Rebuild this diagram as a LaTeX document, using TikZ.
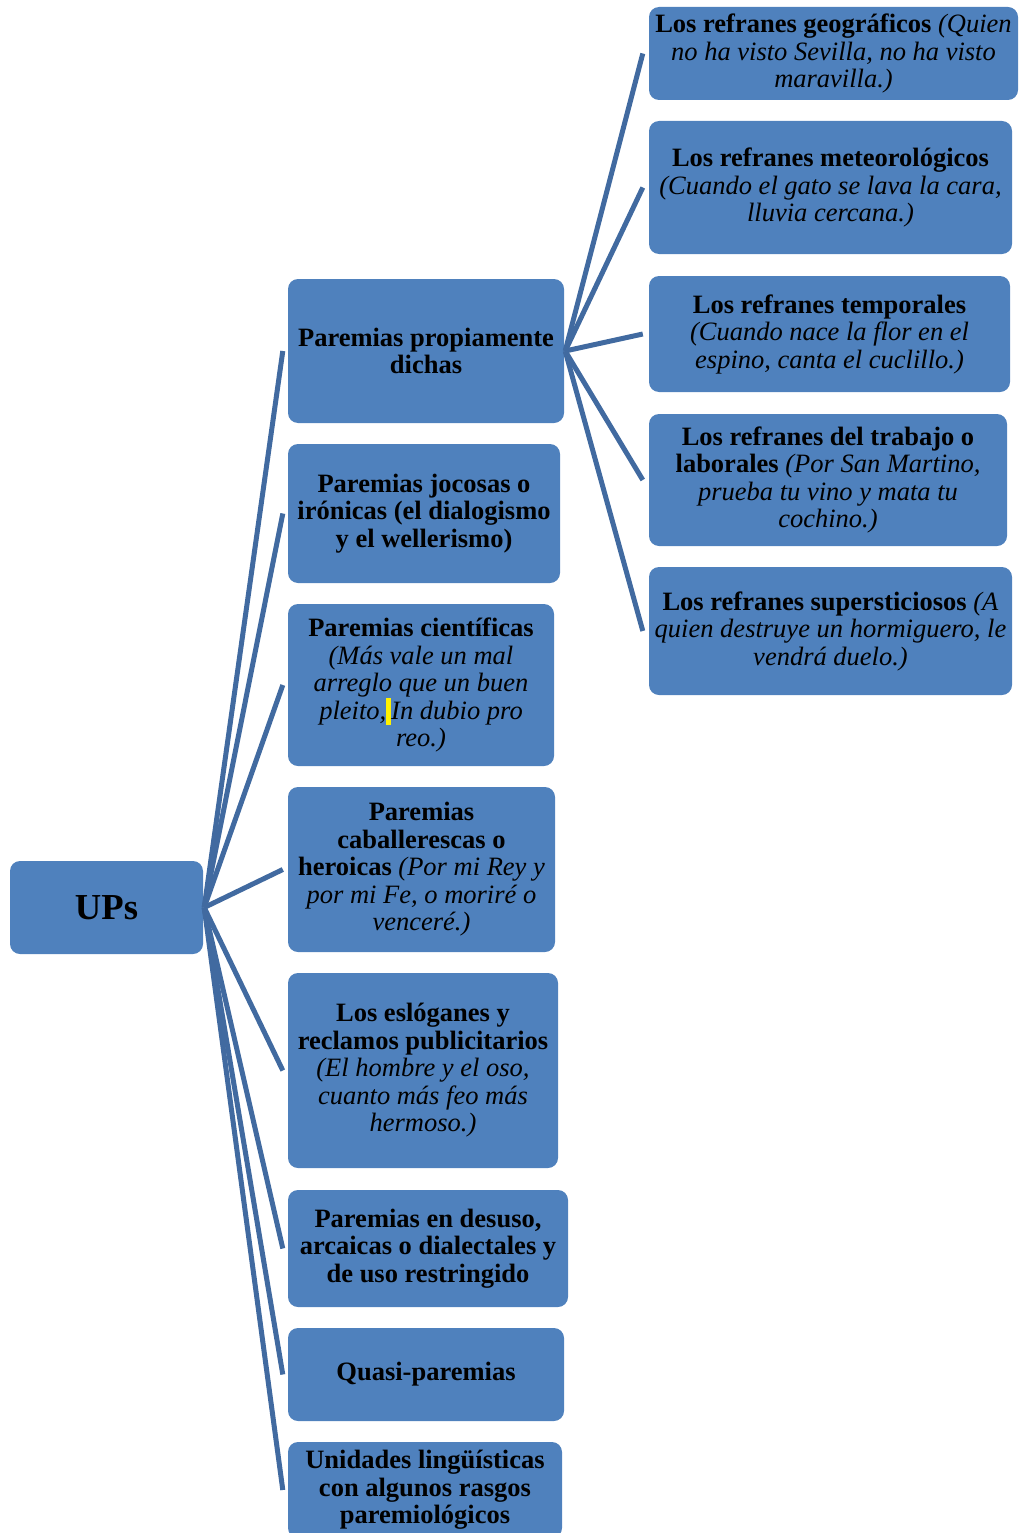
\documentclass[tikz,border=0pt]{standalone}
\usepackage{fontspec}
\setmainfont{Liberation Serif}
\definecolor{boxblue}{RGB}{79,129,189}
\definecolor{lineblue}{RGB}{65,106,160}
\begin{document}
\begin{tikzpicture}[x=1pt,y=-1pt,
  box/.style={fill=boxblue, rounded corners=10pt, inner sep=0pt, align=center,
    font=\fontsize{26.5}{27.5}\selectfont, text=black},
  conn/.style={draw=lineblue, line width=5pt}]
\useasboundingbox (0,0) rectangle (1022,1533);
\clip (0,0) rectangle (1022,1533);
% root
\node[box, minimum width=193pt, minimum height=93pt, font=\fontsize{36.6}{40}\selectfont] (root) at (106.5,907.5) {\textbf{UPs}};
% level 1
\node[box, minimum width=276pt, minimum height=144pt] (n1) at (426,351) {\textbf{Paremias propiamente}\\\textbf{dichas}};
\node[box, minimum width=272pt, minimum height=139pt] (n2) at (424,513.5) {\textbf{Paremias jocosas o}\\\textbf{irónicas (el dialogismo}\\\textbf{y el wellerismo)}};
\node[box, minimum width=266pt, minimum height=162pt] (n3) at (421,685) {\textbf{Paremias científicas}\\\textit{(Más vale un mal}\\\textit{arreglo que un buen}\\\textit{pleito,{\color{yellow}\rule[-6pt]{5pt}{27pt}}In dubio pro}\\\textit{reo.)}};
\node[box, minimum width=267pt, minimum height=165pt] (n4) at (421.5,869.5) {\textbf{Paremias}\\\textbf{caballerescas o}\\\textbf{heroicas} \textit{(Por mi Rey y}\\\textit{por mi Fe, o moriré o}\\\textit{venceré.)}};
\node[box, minimum width=270pt, minimum height=195pt] (n5) at (423,1070.5) {\textbf{Los eslóganes y}\\\textbf{reclamos publicitarios}\\\textit{(El hombre y el oso,}\\\textit{cuanto más feo más}\\\textit{hermoso.)}};
\node[box, minimum width=280pt, minimum height=117pt] (n6) at (428,1248.5) {\textbf{Paremias en desuso,}\\\textbf{arcaicas o dialectales y}\\\textbf{de uso restringido}};
\node[box, minimum width=276pt, minimum height=93pt] (n7) at (426,1374.5) {\textbf{Quasi-paremias}};
\node[box, minimum width=274pt, minimum height=96pt] (n8) at (425,1490) {\textbf{Unidades lingüísticas}\\\textbf{con algunos rasgos}\\\textbf{paremiológicos}};
% level 2
\node[box, minimum width=369pt, minimum height=93pt] (m1) at (833.5,53.5) {\textbf{Los refranes geográficos} \textit{(Quien}\\\textit{no ha visto Sevilla, no ha visto}\\\textit{maravilla.)}};
\node[box, minimum width=363pt, minimum height=133pt] (m2) at (830.5,187.5) {\textbf{Los refranes meteorológicos}\\\textit{(Cuando el gato se lava la cara,}\\\textit{lluvia cercana.)}};
\node[box, minimum width=361pt, minimum height=116pt] (m3) at (829.5,334) {\textbf{Los refranes temporales}\\\textit{(Cuando nace la flor en el}\\\textit{espino, canta el cuclillo.)}};
\node[box, minimum width=358pt, minimum height=132pt] (m4) at (828,480) {\textbf{Los refranes del trabajo o}\\\textbf{laborales} \textit{(Por San Martino,}\\\textit{prueba tu vino y mata tu}\\\textit{cochino.)}};
\node[box, minimum width=363pt, minimum height=128pt] (m5) at (830.5,631) {\textbf{Los refranes supersticiosos} \textit{(A}\\\textit{quien destruye un hormiguero, le}\\\textit{vendrá duelo.)}};
% connectors
\foreach \c in {n1,n2,n3,n4,n5,n6,n7,n8}
  \draw[conn] ([xshift=1pt]root.east) -- ([xshift=-5pt]\c.west);
\foreach \c in {m1,m2,m3,m4,m5}
  \draw[conn] ([xshift=1pt]n1.east) -- ([xshift=-6pt]\c.west);
\end{tikzpicture}
\end{document}
